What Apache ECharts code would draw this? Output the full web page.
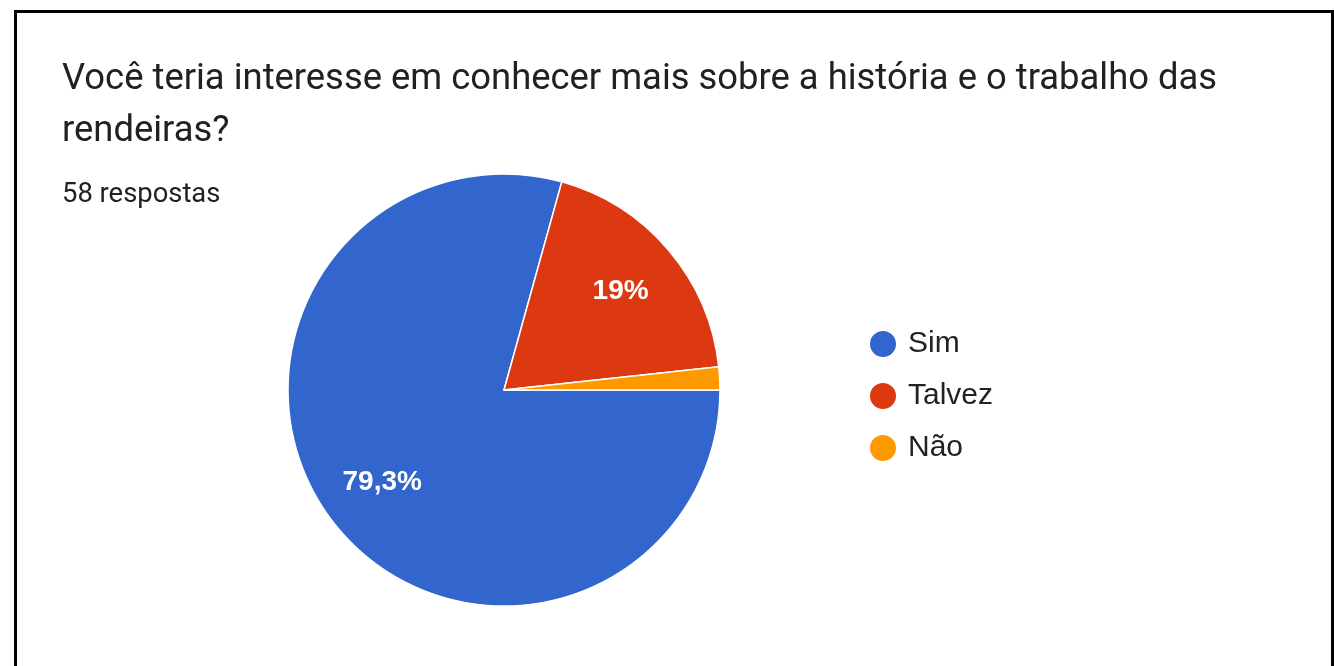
<!DOCTYPE html>
<html>
<head>
<meta charset="utf-8">
<script src="https://cdn.jsdelivr.net/npm/echarts@6/dist/echarts.min.js"></script>
<style>
  html, body { margin: 0; padding: 0; background: #ffffff; }
  #chart { width: 1334px; height: 666px; }
</style>
</head>
<body>
<div id="chart"></div>
<script>
// Survey answers (58 responses)
const categories = ['Sim', 'Talvez', 'Não'];
const counts = [46, 11, 1];
const colors = ['#3366cc', '#dc3912', '#ff9900'];

const questionText = 'Você teria interesse em conhecer mais sobre a história e o trabalho das\nrendeiras?';
const total = counts.reduce((a, b) => a + b, 0);
const responsesText = total + ' respostas';

const pieData = categories.map((name, i) => ({
  name: name,
  value: counts[i],
  itemStyle: { color: colors[i] }
}));

// Percent with one decimal and a comma as decimal separator
function pctLabel(value) {
  const p = Math.round(value / total * 1000) / 10;
  return String(p).replace('.', ',') + '%';
}

const center = [504, 390];
const outerR = 216;

const chart = echarts.init(document.getElementById('chart'), null, { renderer: 'canvas' });

chart.setOption({
  backgroundColor: '#ffffff',
  animation: false,
  title: [
    {
      text: questionText,
      left: 57,
      top: 49,
      textStyle: {
        fontFamily: 'Roboto',
        fontSize: 36.4,
        fontWeight: 'normal',
        color: '#202124',
        lineHeight: 52
      }
    },
    {
      text: responsesText,
      left: 57,
      top: 177,
      textStyle: {
        fontFamily: 'Roboto',
        fontSize: 27.4,
        fontWeight: 'normal',
        color: '#202124'
      }
    }
  ],
  legend: {
    orient: 'vertical',
    left: 863,
    top: 324,
    icon: 'circle',
    itemWidth: 28,
    itemHeight: 28,
    itemGap: 22,
    textStyle: {
      fontFamily: 'Liberation Sans, Arial',
      fontSize: 30,
      color: '#222222',
      padding: [0, 0, 0, 6]
    },
    data: categories
  },
  graphic: [
    {
      type: 'polyline',
      shape: { points: [[15.5, 700], [15.5, 11.5], [1332.5, 11.5], [1332.5, 700]] },
      style: { stroke: '#000000', lineWidth: 3, fill: null },
      silent: true
    }
  ],
  series: [
    {
      type: 'pie',
      center: center,
      radius: [0, outerR],
      startAngle: 0,
      clockwise: true,
      silent: true,
      label: { show: false },
      labelLine: { show: false },
      itemStyle: { borderColor: '#ffffff', borderWidth: 1.5 },
      data: pieData
    },
    {
      // label ring: places percentage text at ~70% of the radius
      type: 'pie',
      center: center,
      radius: [84, outerR],
      startAngle: 0,
      clockwise: true,
      silent: true,
      legendHoverLink: false,
      minShowLabelAngle: 10,
      itemStyle: { color: 'rgba(0,0,0,0)', borderWidth: 0 },
      labelLine: { show: false },
      label: {
        show: true,
        position: 'inside',
        formatter: p => pctLabel(p.value),
        fontFamily: 'Liberation Sans, Arial',
        fontSize: 28,
        fontWeight: 'bold',
        color: '#ffffff'
      },
      data: categories.map((name, i) => ({ name: name + ' ', value: counts[i] }))
    }
  ]
});
</script>
</body>
</html>
